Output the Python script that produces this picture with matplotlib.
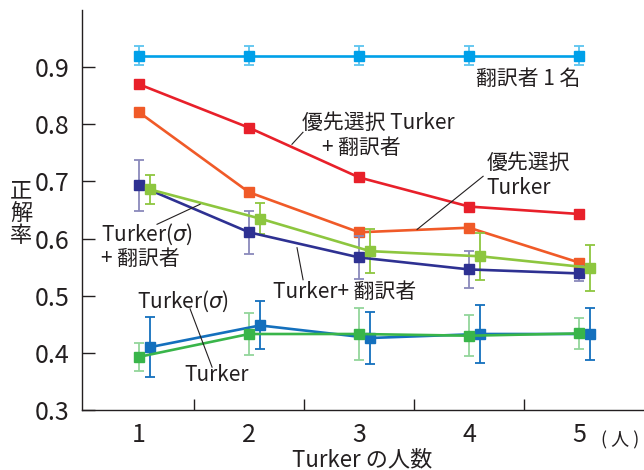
import matplotlib
matplotlib.use("Agg")
import matplotlib.pyplot as plt
import numpy as np

plt.rcParams["font.family"] = ["Noto Sans CJK JP", "DejaVu Sans"]

# Turker の人数
n_turkers = [1, 2, 3, 4, 5]

# 各条件の正解率と標準偏差
translator_one = [0.92, 0.92, 0.92, 0.92, 0.92]
translator_one_err = [0.017, 0.017, 0.017, 0.017, 0.017]

pref_turker_trans = [0.870, 0.794, 0.707, 0.656, 0.643]
pref_turker = [0.821, 0.681, 0.611, 0.619, 0.558]

turker_trans = [0.693, 0.611, 0.567, 0.546, 0.539]
turker_trans_err = [0.044, 0.038, 0.037, 0.032, 0.013]

sigma_trans = [0.686, 0.635, 0.578, 0.569, 0.549]
sigma_trans_err = [0.025, 0.027, 0.039, 0.041, 0.040]

turker_sigma = [0.410, 0.448, 0.426, 0.433, 0.433]
turker_sigma_err = [0.053, 0.042, 0.045, 0.051, 0.046]

turker = [0.393, 0.433, 0.433, 0.430, 0.434]
turker_err = [0.025, 0.036, 0.045, 0.036, 0.027]

x = np.array(n_turkers, dtype=float)
shift = 0.1  # σ系列を少し右にずらす

fig = plt.figure(figsize=(6.44, 4.70), dpi=100)
ax = fig.add_axes([82 / 644, 60 / 470, 561 / 644, 400 / 470])

text_c = "#231f20"


def series(xs, ys, err, color, ecolor, z):
    ax.errorbar(xs, ys, yerr=err, color=color, ecolor=ecolor, lw=1.9,
                elinewidth=1.3, capsize=3.5, capthick=1.3, marker="s",
                markersize=6.5, zorder=z)


series(x, translator_one, translator_one_err, "#00a0e9", "#5cc4ef", 3)
ax.plot(x, pref_turker_trans, color="#e8202a", lw=1.9, marker="s", markersize=6.5, zorder=3)
ax.plot(x, pref_turker, color="#f05a28", lw=1.9, marker="s", markersize=6.5, zorder=3)
series(x, turker_trans, turker_trans_err, "#2e3192", "#8a89bb", 4)
series(x + shift, sigma_trans, sigma_trans_err, "#8dc63f", "#8dc63f", 4)
series(x + shift, turker_sigma, turker_sigma_err, "#1470bd", "#1470bd", 4)
series(x, turker, turker_err, "#39b54a", "#93d59b", 4)

ax.set_xlim(0.482, 5.58)
ax.set_ylim(0.3, 1.0)
ax.set_yticks([0.3, 0.4, 0.5, 0.6, 0.7, 0.8, 0.9])
ax.set_yticklabels(["0.3", "0.4", "0.5", "0.6", "0.7", "0.8", "0.9"])
ax.set_xticks(n_turkers)
ax.set_xticklabels([str(v) for v in n_turkers])
ax.set_xticks([1.5, 2.5, 3.5, 4.5], minor=True)
ax.tick_params(axis="x", which="major", length=0, pad=9, labelsize=18, colors=text_c)
ax.tick_params(axis="x", which="minor", direction="in", length=8, width=1, color=text_c)
ax.tick_params(axis="y", direction="in", length=9, width=1, pad=9, labelsize=18,
               colors=text_c)
for s in ["top", "right"]:
    ax.spines[s].set_visible(False)
for s in ["left", "bottom"]:
    ax.spines[s].set_color(text_c)
    ax.spines[s].set_linewidth(1.0)

ax.set_xlabel("Turker の人数", fontsize=16, color=text_c, labelpad=0)
fig.text(21 / 644, 1 - 213 / 470, "正\n解\n率", fontsize=16, color=text_c,
         ha="center", va="center", linespacing=0.95)
ax.text(5.37, 0.247, "( 人 )", fontsize=13, color=text_c, ha="center", va="center",
        clip_on=False)

# 系列ラベルと引き出し線
fs = 15
labels = [
    (5.01, 0.879, "翻訳者 1 名", "right"),
    (2.48, 0.802, "優先選択 Turker", "left"),
    (2.66, 0.758, "+ 翻訳者", "left"),
    (4.16, 0.733, "優先選択", "left"),
    (4.16, 0.689, "Turker", "left"),
    (0.655, 0.607, "Turker($\\sigma$)", "left"),
    (0.655, 0.565, "+ 翻訳者", "left"),
    (2.218, 0.507, "Turker+ 翻訳者", "left"),
    (0.982, 0.491, "Turker($\\sigma$)", "left"),
    (1.409, 0.361, "Turker", "left"),
]
for lx, ly, s, ha in labels:
    ax.text(lx, ly, s, fontsize=fs, color=text_c, ha=ha, va="center", zorder=6)

leaders = [
    ((2.39, 0.765), (2.49, 0.786)),
    ((3.527, 0.616), (4.127, 0.709)),
    ((1.164, 0.625), (1.555, 0.660)),
    ((2.436, 0.584), (2.491, 0.528)),
    ((1.464, 0.477), (1.664, 0.375)),
]
for (x0, y0), (x1, y1) in leaders:
    ax.plot([x0, x1], [y0, y1], color=text_c, lw=0.8, zorder=5)

fig.savefig("out.png", dpi=100)
